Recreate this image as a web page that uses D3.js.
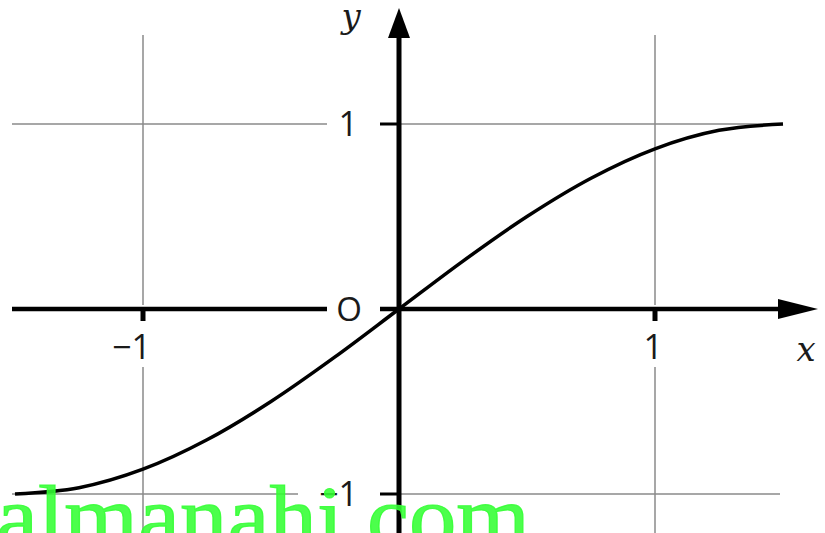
<!DOCTYPE html>
<html>
<head>
<meta charset="utf-8">
<script src="https://cdn.jsdelivr.net/npm/d3@7"></script>
<style>
  body { margin: 0; background: #fff; }
  svg { display: block; }
</style>
</head>
<body>
<svg id="chart" width="825" height="533"></svg>
<script>
// curve values
var curveX = [-1.5, -1.25, -1, -0.75, -0.5, -0.25, 0, 0.25, 0.5, 0.75, 1, 1.25, 1.5];
var curveY = [-1, -0.966, -0.866, -0.707, -0.5, -0.259, 0, 0.259, 0.5, 0.707, 0.866, 0.966, 1];

var xTicks = [-1, 1];
var yTicks = [-1, 1];
var xTickLabels = ["\u22121", "1"];
var yTickLabels = ["\u22121", "1"];
var watermark = "almanahi.com";

var svg = d3.select("#chart");
var x = d3.scaleLinear().domain([-1, 1]).range([143, 655]);
var y = d3.scaleLinear().domain([-1, 1]).range([494, 124]);

var gridColor = "#8a8a8a";
var sans = "'Open Sans', 'Noto Sans', sans-serif";
var serif = "'DejaVu Serif', 'Liberation Serif', serif";

// grid (vertical at x ticks, horizontal at y ticks) with gaps for labels
xTicks.forEach(function(t) {
  svg.append("line").attr("x1", x(t)).attr("x2", x(t)).attr("y1", 35).attr("y2", y(0) - 4)
    .attr("stroke", gridColor).attr("stroke-width", 1.5);
  svg.append("line").attr("x1", x(t)).attr("x2", x(t)).attr("y1", y(0) + 58).attr("y2", 533)
    .attr("stroke", gridColor).attr("stroke-width", 1.5);
});
yTicks.forEach(function(t) {
  svg.append("line").attr("x1", 12).attr("x2", t > 0 ? 327 : 298).attr("y1", y(t)).attr("y2", y(t))
    .attr("stroke", gridColor).attr("stroke-width", 1.5);
  svg.append("line").attr("x1", x(0)).attr("x2", 780).attr("y1", y(t)).attr("y2", y(t))
    .attr("stroke", gridColor).attr("stroke-width", 1.5);
});

// x axis, with a gap for the "O"
svg.append("line").attr("x1", 12).attr("x2", 327).attr("y1", y(0)).attr("y2", y(0))
  .attr("stroke", "#000").attr("stroke-width", 4.5);
svg.append("line").attr("x1", 380).attr("x2", 785).attr("y1", y(0)).attr("y2", y(0))
  .attr("stroke", "#000").attr("stroke-width", 4.5);
svg.append("path")
  .attr("d", "M778," + (y(0) - 10) + "L818," + y(0) + "L778," + (y(0) + 10) + "Z")
  .attr("fill", "#000");

// y axis
svg.append("line").attr("x1", x(0)).attr("x2", x(0)).attr("y1", 533).attr("y2", 30)
  .attr("stroke", "#000").attr("stroke-width", 5);
svg.append("path")
  .attr("d", "M" + (x(0) - 11) + ",38L" + x(0) + ",8L" + (x(0) + 11) + ",38Z")
  .attr("fill", "#000");

// ticks
xTicks.forEach(function(t) {
  svg.append("line").attr("x1", x(t)).attr("x2", x(t)).attr("y1", y(0)).attr("y2", y(0) + 12)
    .attr("stroke", "#000").attr("stroke-width", 5);
});
yTicks.forEach(function(t) {
  svg.append("line").attr("x1", 380).attr("x2", x(0)).attr("y1", y(t)).attr("y2", y(t))
    .attr("stroke", "#000").attr("stroke-width", 3);
});

// tick labels
xTicks.forEach(function(t, i) {
  svg.append("text").attr("x", x(t) + 8).attr("y", y(0) + 50)
    .attr("text-anchor", "end").attr("font-family", sans).attr("font-size", 34)
    .attr("fill", "#1a1a1a").text(xTickLabels[i]);
});
yTicks.forEach(function(t, i) {
  svg.append("text").attr("x", 358).attr("y", y(t) + 12)
    .attr("text-anchor", "end").attr("font-family", sans).attr("font-size", 34)
    .attr("fill", "#1a1a1a").text(yTickLabels[i]);
});
svg.append("text").attr("x", 349).attr("y", y(0) + 12)
  .attr("text-anchor", "middle").attr("font-family", sans).attr("font-size", 33)
  .attr("fill", "#1a1a1a").text("O");

// axis names
svg.append("text").attr("x", 351).attr("y", 28)
  .attr("text-anchor", "middle").attr("font-family", serif).attr("font-style", "italic")
  .attr("font-size", 34).attr("fill", "#1a1a1a").text("y");
svg.append("text").attr("x", 806).attr("y", 361)
  .attr("text-anchor", "middle").attr("font-family", serif).attr("font-style", "italic")
  .attr("font-size", 34).attr("fill", "#1a1a1a").text("x");

// the curve
var pts = curveX.map(function(v, i) { return [v, curveY[i]]; });
var line = d3.line()
  .x(function(d) { return x(d[0]); })
  .y(function(d) { return y(d[1]); })
  .curve(d3.curveMonotoneX);
svg.append("path").datum(pts).attr("d", line)
  .attr("fill", "none").attr("stroke", "#000").attr("stroke-width", 3.5);

// watermark
svg.append("text").attr("x", -4).attr("y", 547)
  .attr("font-family", "'Liberation Serif', 'DejaVu Serif', serif").attr("font-size", 88)
  .attr("textLength", 534).attr("lengthAdjust", "spacingAndGlyphs")
  .attr("fill", "#33ff33").attr("fill-opacity", 0.88)
  .attr("stroke", "#33ff33").attr("stroke-opacity", 0.88).attr("stroke-width", 1.2)
  .text(watermark);
</script>
</body>
</html>
